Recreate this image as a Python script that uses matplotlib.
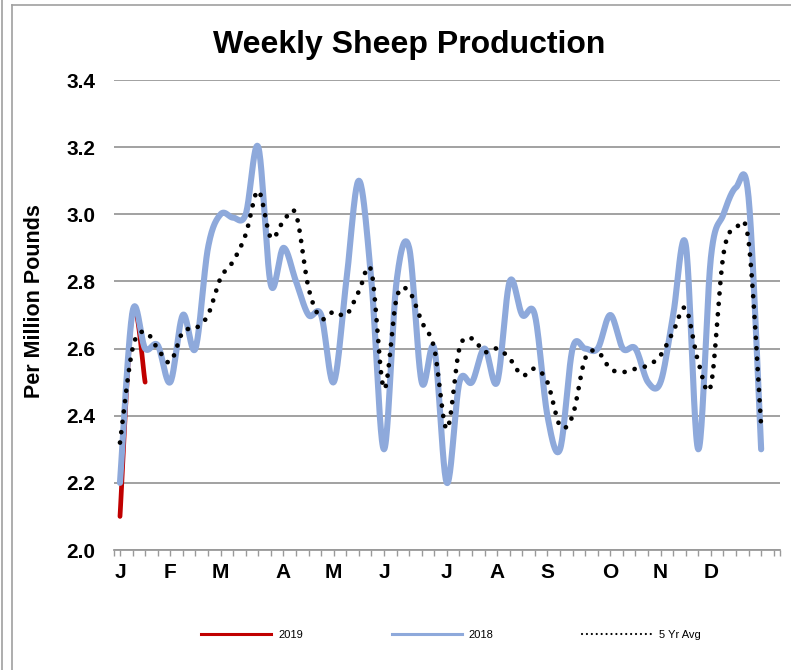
import numpy as np
import matplotlib
matplotlib.use('Agg')
import matplotlib.pyplot as plt
from matplotlib.lines import Line2D

plt.rcParams['font.family'] = ['Liberation Sans', 'DejaVu Sans']

# weekly values, 52 weeks
prod_2019 = [2.10, 2.71, 2.50]
prod_2018 = [2.20, 2.71, 2.60, 2.61, 2.50, 2.70, 2.60, 2.90, 3.00, 2.99,
             3.00, 3.20, 2.79, 2.90, 2.80, 2.70, 2.70, 2.50, 2.80, 3.10,
             2.80, 2.30, 2.80, 2.90, 2.50, 2.60, 2.20, 2.50, 2.50, 2.60,
             2.50, 2.80, 2.70, 2.70, 2.40, 2.30, 2.60, 2.60, 2.60, 2.70,
             2.60, 2.60, 2.50, 2.50, 2.70, 2.91, 2.30, 2.87, 3.00, 3.08,
             3.05, 2.30]
avg_5yr = [2.32, 2.60, 2.65, 2.60, 2.56, 2.65, 2.66, 2.70, 2.81, 2.86,
           2.94, 3.07, 2.93, 2.98, 3.00, 2.78, 2.69, 2.71, 2.70, 2.77,
           2.83, 2.48, 2.75, 2.77, 2.68, 2.60, 2.36, 2.60, 2.63, 2.59,
           2.60, 2.57, 2.52, 2.54, 2.50, 2.37, 2.40, 2.57, 2.59, 2.54,
           2.53, 2.54, 2.55, 2.58, 2.65, 2.72, 2.56, 2.49, 2.88, 2.96,
           2.92, 2.37]
month_labels = ['J', 'F', 'M', 'A', 'M', 'J', 'J', 'A', 'S', 'O', 'N', 'D']
month_weeks = [0, 4, 8, 13, 17, 21, 26, 30, 34, 39, 43, 47]


def smooth(vals, n=24):
    # Excel-style smoothed line (bezier through every point)
    pts = np.column_stack([np.arange(len(vals)), np.asarray(vals, float)])
    pad = np.vstack([pts[0], pts, pts[-1]])
    t = np.linspace(0, 1, n, endpoint=False)[:, None]
    segs = []
    for i in range(len(pts) - 1):
        p0, p1, p2, p3 = pad[i:i + 4]
        c1 = p1 + (p2 - p0) / 6
        c2 = p2 - (p3 - p1) / 6
        segs.append((1 - t) ** 3 * p1 + 3 * (1 - t) ** 2 * t * c1
                    + 3 * (1 - t) * t ** 2 * c2 + t ** 3 * p2)
    segs.append(pts[-1:])
    s = np.vstack(segs)
    return s[:, 0], s[:, 1]


W, H = 791, 670
fig = plt.figure(figsize=(W / 100, H / 100), dpi=100)
ax = fig.add_axes([113.7 / W, 1 - 550 / H, (780 - 113.7) / W, 470 / H])

red = '#C00000'
blue = '#8EA9DB'

ax.plot(*smooth(prod_2019), color=red, lw=3.4, solid_capstyle='round', zorder=2)
ax.plot(*smooth(prod_2018), color=blue, lw=4.4, solid_capstyle='round', zorder=3)
ax.plot(*smooth(avg_5yr), color='black', lw=3.4, linestyle=(0, (0.01, 2.2)),
        dash_capstyle='round', zorder=4)

ax.set_xlim(-0.5, 52.5)
ax.set_ylim(2.0, 3.4)
ax.set_yticks(np.arange(2.0, 3.41, 0.2))
ax.set_yticklabels([f'{v:.1f}' for v in np.arange(2.0, 3.41, 0.2)])
ax.yaxis.grid(True, color='#9A9A9A', lw=1.3)
ax.set_axisbelow(True)

ticks = [-0.5] + list(range(53)) + [52.5]
labels = {w: m for w, m in zip(month_weeks, month_labels)}
ax.set_xticks(ticks)
ax.set_xticklabels([labels.get(t, '') for t in ticks])

for s in ['left', 'right', 'top']:
    ax.spines[s].set_visible(False)
ax.spines['bottom'].set_color('#9A9A9A')
ax.spines['bottom'].set_linewidth(1.3)
ax.tick_params(axis='y', length=0, pad=13, labelsize=15)
ax.tick_params(axis='x', length=4, width=1, color='#9A9A9A', pad=5, labelsize=15)
for lab in ax.get_xticklabels() + ax.get_yticklabels():
    lab.set_fontweight('bold')

fig.text(409.5 / W, 1 - 45 / H, 'Weekly Sheep Production', ha='center', va='center',
         fontsize=23, fontweight='bold')
fig.text(34.5 / W, 1 - 301.5 / H, 'Per Million Pounds', ha='center', va='center',
         rotation=90, fontsize=15.5, fontweight='bold')

handles = [Line2D([], [], color=red, lw=2.2),
           Line2D([], [], color=blue, lw=2.2),
           Line2D([], [], color='black', lw=1.6, linestyle=(0, (0.01, 2.2)),
                  dash_capstyle='round')]
fig.legend(handles, ['2019', '2018', '5 Yr Avg'], loc='center', ncol=3,
           bbox_to_anchor=(451 / W, 1 - 635 / H), frameon=False, fontsize=8,
           handlelength=6.3, handletextpad=0.6, columnspacing=8)

# chart area border
frame = '#A0A0A0'
fig.add_artist(Line2D([11.5 / W, 11.5 / W], [0, 1 - 5 / H], color=frame, lw=1.2,
                      transform=fig.transFigure))
fig.add_artist(Line2D([11.5 / W, 1], [1 - 5 / H, 1 - 5 / H], color=frame, lw=1.2,
                      transform=fig.transFigure))
fig.add_artist(Line2D([2 / W, 2 / W], [0, 1], color=frame, lw=1.2,
                      transform=fig.transFigure))

fig.savefig('out.png', dpi=100)
